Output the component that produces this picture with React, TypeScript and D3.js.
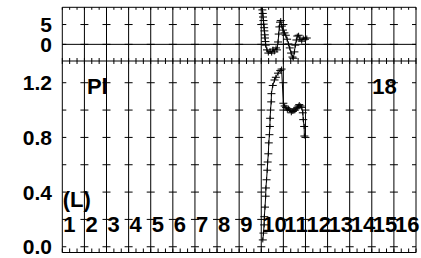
import React from 'react';
import * as d3 from 'd3';

// top panel series (time in days, value)
const topX = [9.03, 9.05, 9.07, 9.08, 9.1, 9.11, 9.13, 9.14, 9.16, 9.17, 9.19, 9.2, 9.26, 9.32, 9.4, 9.47, 9.53, 9.59, 9.67, 9.71, 9.76, 9.79, 9.82, 9.85, 9.88, 9.93, 9.98, 10.05, 10.11, 10.17, 10.23, 10.29, 10.35, 10.41, 10.45, 10.5, 10.54, 10.59, 10.63, 10.69, 10.75, 10.83, 10.9, 10.98, 11.06];
const topY = [9.8, 8.7, 7.8, 6.9, 6.0, 5.1, 4.2, 3.4, 2.4, 1.6, 0.7, -0.2, -1.4, -2.2, -1.7, -2.2, -1.2, -1.9, -0.9, -1.4, 0.6, 2.6, 4.4, 5.6, 6.0, 4.6, 3.6, 2.9, 2.3, 1.3, 0.1, -0.9, -2.2, -3.2, -3.5, -1.9, -0.2, 1.1, 2.1, 2.3, 1.3, 0.8, 1.6, 1.3, 1.6];

// bottom panel series
const botX = [9.07, 9.1, 9.13, 9.14, 9.17, 9.2, 9.21, 9.24, 9.27, 9.29, 9.32, 9.34, 9.37, 9.39, 9.4, 9.42, 9.45, 9.46, 9.52, 9.6, 9.66, 9.76, 9.86, 9.92, 10.0, 10.06, 10.12, 10.18, 10.23, 10.3, 10.36, 10.43, 10.48, 10.53, 10.58, 10.63, 10.68, 10.72, 10.78, 10.83, 10.88, 10.9, 10.94, 10.95];
const botY = [0.05, 0.1, 0.16, 0.22, 0.29, 0.37, 0.43, 0.49, 0.56, 0.62, 0.68, 0.76, 0.82, 0.88, 0.94, 1.0, 1.06, 1.12, 1.18, 1.22, 1.24, 1.27, 1.29, 1.3, 1.05, 1.03, 1.02, 1.0, 1.01, 1.0, 0.98, 0.99, 1.0, 1.0, 1.01, 1.02, 1.03, 1.04, 1.03, 1.02, 0.98, 0.93, 0.88, 0.81];

const dayLabels = ['1', '2', '3', '4', '5', '6', '7', '8', '9', '10', '11', '12', '13', '14', '15', '16'];
const topTicks = [0, 5];
const botTicks = [0.0, 0.2, 0.4, 0.6, 0.8, 1.0, 1.2];
const botLabels = [0.0, 0.4, 0.8, 1.2];

const W = 421;
const H = 258;

const App: React.FC = () => {
  const x = d3.scaleLinear().domain([0, 16]).range([62.3, 416]);
  const yTop = d3.scaleLinear().domain([-4.2, 9.35]).range([61, 7.3]);
  const yBot = d3.scaleLinear().domain([-0.042, 1.359]).range([252.5, 61]);

  const grid = d3.range(0, 17);
  const minor = d3.range(0, 48.01).map(i => i / 3);

  const topPts = topX.map((d, i) => [d, topY[i]] as [number, number]);
  const botPts = botX.map((d, i) => [d, botY[i]] as [number, number]);

  const lineTop = d3.line<[number, number]>().x(d => x(d[0])).y(d => yTop(d[1]));
  const lineBot = d3.line<[number, number]>().x(d => x(d[0])).y(d => yBot(d[1]));

  const plus = (cx: number, cy: number, k: string) => (
    <path key={k} d={`M${cx - 4},${cy}H${cx + 4}M${cx},${cy - 2.5}V${cy + 2.5}`} stroke="#000" strokeWidth={1} />
  );

  const font = "'Liberation Sans', Arial, Helvetica, sans-serif";
  const x0 = x(0);
  const x1 = x(16);
  const top = yTop.range()[1];
  const mid = yTop.range()[0];
  const bot = yBot.range()[0];

  return (
    <div style={{ position: 'fixed', left: 0, top: 0 }}>
      <svg width={W} height={H} style={{ display: 'block', background: '#fff' }}>
        <defs>
          <clipPath id="cTop"><rect x={x0} y={top} width={x1 - x0} height={mid - top} /></clipPath>
          <clipPath id="cBot"><rect x={x0} y={mid} width={x1 - x0} height={bot - mid} /></clipPath>
        </defs>

        {/* vertical grid */}
        {grid.map(g => (
          <line key={'g' + g} x1={x(g)} x2={x(g)} y1={top} y2={bot} stroke="#000" strokeWidth={1} />
        ))}
        {/* frame */}
        <line x1={x0} x2={x1} y1={top} y2={top} stroke="#000" />
        <line x1={x0} x2={x1} y1={mid} y2={mid} stroke="#000" />
        <line x1={x0} x2={x1} y1={bot} y2={bot} stroke="#000" />
        <line x1={x0} x2={x1} y1={yTop(0)} y2={yTop(0)} stroke="#000" />

        {/* minor x ticks */}
        {minor.map((m, i) => (
          <g key={'m' + i}>
            <line x1={x(m)} x2={x(m)} y1={top} y2={top + 2.5} stroke="#000" />
            <line x1={x(m)} x2={x(m)} y1={mid - 3} y2={mid + 3} stroke="#000" />
            <line x1={x(m)} x2={x(m)} y1={bot - 4} y2={bot} stroke="#000" />
          </g>
        ))}

        {/* y cross ticks on gridlines */}
        {grid.map(g => (
          <g key={'c' + g}>
            {topTicks.map(t => (
              <line key={t} x1={Math.max(x0, x(g) - 4)} x2={Math.min(x1, x(g) + 4)} y1={yTop(t)} y2={yTop(t)} stroke="#000" />
            ))}
            {botTicks.map(t => (
              <line key={t} x1={Math.max(x0, x(g) - 4)} x2={Math.min(x1, x(g) + 4)} y1={yBot(t)} y2={yBot(t)} stroke="#000" />
            ))}
          </g>
        ))}

        {/* y labels */}
        <g fontFamily={font} fontWeight="bold" fontSize={21} textAnchor="end">
          {topTicks.map(t => (
            <text key={'tl' + t} x={52} y={yTop(t) + 7.5}>{d3.format('d')(t)}</text>
          ))}
          {botLabels.map(t => (
            <text key={'bl' + t} x={52} y={yBot(t) + 7.5}>{d3.format('.1f')(t)}</text>
          ))}
        </g>

        {/* series */}
        <g clipPath="url(#cTop)">
          <path d={lineTop(topPts) ?? ''} fill="none" stroke="#000" strokeWidth={1} />
          {topPts.map((p, i) => plus(x(p[0]), yTop(p[1]), 't' + i))}
        </g>
        <g clipPath="url(#cBot)">
          <path d={lineBot(botPts) ?? ''} fill="none" stroke="#000" strokeWidth={1} />
          {botPts.map((p, i) => plus(x(p[0]), yBot(p[1]), 'b' + i))}
        </g>

        {/* in-plot labels */}
        <g fontFamily={font} fontWeight="bold" fontSize={22}>
          <text x={x(1) + 2.5} y={94}>Pl</text>
          <text x={x(14) + 0.5} y={94}>18</text>
          <text x={x(0) + 0.5} y={207}>(L)</text>
          {dayLabels.map((l, i) => (
            <text key={'d' + l} x={x(i) + 1} y={232}>{l}</text>
          ))}
        </g>
      </svg>
    </div>
  );
};

export default App;
